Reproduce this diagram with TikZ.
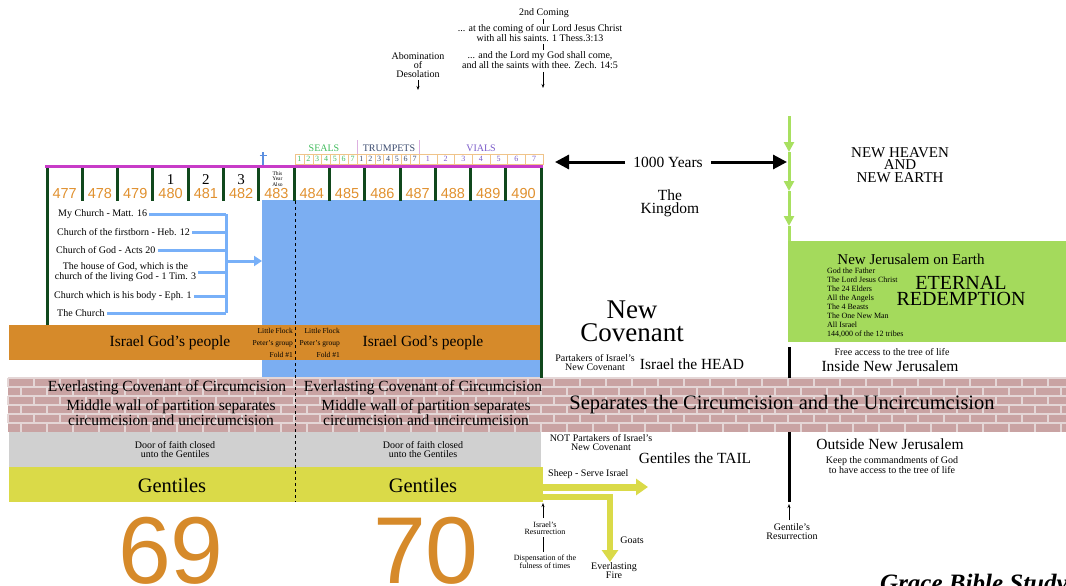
\documentclass[tikz,border=0pt]{standalone}
\usepackage{fontspec}
\setmainfont{Liberation Serif}
\newfontfamily\numfont{Liberation Sans}
\usetikzlibrary{arrows.meta,positioning}

\definecolor{yearorange}{HTML}{E0902E}
\definecolor{bandorange}{HTML}{D68A2A}
\definecolor{postgreen}{HTML}{10481C}
\definecolor{barmagenta}{HTML}{C83CC8}
\definecolor{churchblue}{HTML}{7BAEF2}
\definecolor{linkblue}{HTML}{78B0F8}
\definecolor{crossblue}{HTML}{5A8EE0}
\definecolor{brickred}{HTML}{C9A3A3}
\definecolor{mortar}{HTML}{E4D6D6}
\definecolor{doorgray}{HTML}{D0D0D0}
\definecolor{gentyellow}{HTML}{DADA48}
\definecolor{jerusgreen}{HTML}{A4DA5C}
\definecolor{heavengreen}{HTML}{A8E060}
\definecolor{sealgreen}{HTML}{40BB5C}
\definecolor{trumpslate}{HTML}{3A4A6E}
\definecolor{vialpurple}{HTML}{7A5AC8}
\definecolor{boxtan}{HTML}{F0C48A}
\definecolor{seppurple}{HTML}{DDB0E0}

\newcommand{\txtsize}[2]{\fontsize{#1}{#2}\selectfont}

\tikzset{
  yearnum/.style={font=\numfont\txtsize{14.5}{14.5}, text=yearorange, inner sep=0pt},
  post/.style={postgreen, line width=3pt},
  smallnum/.style={font=\txtsize{8}{8}, inner sep=0pt},
  listitem/.style={font=\txtsize{10}{9}, inner sep=2pt, anchor=west},
  churchlink/.style={linkblue, line width=3pt},
  bandtext/.style={font=\txtsize{15.5}{15.5}, inner sep=0pt},
  flocktext/.style={font=\txtsize{7.5}{12}, align=right, inner sep=0pt},
  walltext/.style={font=\txtsize{15.5}{12.5}, align=center, inner sep=0pt},
  doortext/.style={font=\txtsize{10}{9}, align=center, inner sep=0pt},
  genttext/.style={font=\txtsize{20.5}{20.5}, inner sep=0pt},
  note/.style={font=\txtsize{10}{9}, align=center, inner sep=0pt},
  tinynote/.style={font=\txtsize{8}{7}, align=center, inner sep=0pt},
  bignote/.style={font=\txtsize{15.5}{13}, align=center, inner sep=0pt},
  weekcount/.style={font=\txtsize{15}{15}, inner sep=0pt},
  bigarrow/.style={line width=3pt, -{Triangle[length=14pt,width=14pt]}},
  flowarrow/.style={gentyellow, line width=7pt, -{Triangle[length=12pt,width=16pt]}},
  thinup/.style={line width=0.6pt, -{Stealth[length=4pt,width=3pt]}},
  heavenarrow/.style={heavengreen, line width=3pt, -{Triangle[length=10pt,width=10pt]}},
  bignum/.style={font=\numfont\txtsize{95}{95}, text=bandorange, inner sep=0pt, anchor=base},
}

\begin{document}
\begin{tikzpicture}[x=1pt,y=-1pt]
  \useasboundingbox (0,0) rectangle (1066,586);

  % coloured fields
  \fill[churchblue] (262,200) rectangle (541,378);
  \fill[bandorange] (9,325) rectangle (541,360);
  \fill[doorgray] (9,432) rectangle (541,467);
  \fill[gentyellow] (9,467) rectangle (543,502);
  \fill[jerusgreen] (788,241) rectangle (1066,342);

  % brick wall
  \fill[brickred] (8,378) rectangle (1066,432);
  \foreach \r in {0,...,5} {
    \draw[mortar, line width=1.2pt] (8,378+9*\r) -- (1066,378+9*\r);
    \pgfmathsetmacro{\brickoff}{mod(\r,2)*13}
    \foreach \c in {0,...,40}
      \draw[mortar, line width=1.2pt] (8+\brickoff+26*\c,378+9*\r) -- ++(0,9);
  }

  % the 70th week timeline
  \foreach \i in {0,...,14}
    \draw[post] (47+35.3*\i,167) -- (47+35.3*\i,201);
  \draw[post] (47,167) -- (47,325);
  \draw[post] (541,167) -- (541,378);
  \draw[barmagenta, line width=3pt] (45,166) -- (543,166);
  \foreach \n [count=\i from 0] in {477,...,490}
    \node[yearnum] (yr\n) at (64.65+35.3*\i,194) {\n};
  \path (yr480) ++(0,-14) node[weekcount] (one) {1};
  \path (yr481) ++(0,-14) node[weekcount] (two) {2};
  \path (yr482) ++(0,-14) node[weekcount] (three) {3};
  \path (yr483) ++(1,-15) node[font=\txtsize{5.5}{5.5}, align=center, inner sep=0pt] (thisyear) {This\\Year\\Also};
  \draw[crossblue, line width=1.2pt] (263,152) -- (263,165) (259.5,155.5) -- (267,155.5);

  % seals, trumpets, vials
  \foreach \n [count=\i from 0] in {1,...,7} {
    \draw[boxtan] (295+8.86*\i,154) rectangle ++(8.86,10);
    \node[smallnum, text=sealgreen] at (299.43+8.86*\i,159) {\n};
    \draw[boxtan] (357+8.86*\i,154) rectangle ++(8.86,10);
    \node[smallnum, text=trumpslate] at (361.43+8.86*\i,159) {\n};
    \draw[boxtan] (419+17.7*\i,154) rectangle ++(17.7,10);
    \node[smallnum, text=vialpurple] at (427.85+17.7*\i,159) {\n};
  }
  \draw[seppurple] (357,140) -- (357,154) (419,140) -- (419,154);
  \node[font=\txtsize{10}{10}, text=sealgreen, inner sep=0pt] (seals) at (324,148) {SEALS};
  \node[font=\txtsize{10}{10}, text=trumpslate, inner sep=0pt] (trumpets) at (389,148) {TRUMPETS};
  \node[font=\txtsize{10}{10}, text=vialpurple, inner sep=0pt] (vials) at (481,148) {VIALS};

  % names of the church
  \node[listitem] (mychurch) at (56,214) {My Church - Matt. 16};
  \node[listitem] (firstborn) at (55,232) {Church of the firstborn - Heb. 12};
  \node[listitem] (godchurch) at (54,250) {Church of God - Acts 20};
  \node[font=\txtsize{10}{8.5}, align=center, inner sep=2pt] (house) at (125.5,272) {The house of God, which is the\\church of the living God - 1 Tim. 3};
  \node[listitem] (body) at (52,296) {Church which is his body - Eph. 1};
  \node[listitem] (church) at (55,313) {The Church};
  \coordinate (bar) at (226,261);
  \coordinate (blueedge) at (262,261);
  \foreach \item in {mychurch,firstborn,godchurch,house,body,church}
    \draw[churchlink] (\item.east) -- (\item.east -| bar);
  \draw[churchlink] (mychurch.east -| bar) -- (church.east -| bar);
  \draw[churchlink, -{Triangle[length=8pt,width=10pt]}] (bar) -- (blueedge);

  % Israel band
  \node[bandtext] (israelL) at (170,343) {Israel God's people};
  \node[bandtext] (israelR) at (423,343) {Israel God's people};
  \node[flocktext, anchor=east] (flockL) at (293,343) {Little Flock\\Peter's group\\Fold \#1};
  \node[flocktext, anchor=east] (flockR) at (340,343) {Little Flock\\Peter's group\\Fold \#1};

  % wall texts
  \node[walltext] (covL) at (167,388) {Everlasting Covenant of Circumcision};
  \node[walltext] (covR) at (423,388) {Everlasting Covenant of Circumcision};
  \node[walltext] (wallL) at (171,413) {Middle wall of partition separates\\circumcision and uncircumcision};
  \node[walltext] (wallR) at (426,413) {Middle wall of partition separates\\circumcision and uncircumcision};
  \node[font=\txtsize{20.5}{20.5}, inner sep=0pt] (separates) at (782,405) {Separates the Circumcision and the Uncircumcision};

  % Gentiles
  \node[doortext] (doorL) at (175,450) {Door of faith closed\\unto the Gentiles};
  \node[doortext] (doorR) at (423,450) {Door of faith closed\\unto the Gentiles};
  \node[genttext] (gentL) at (172,485) {Gentiles};
  \node[genttext] (gentR) at (423,485) {Gentiles};
  \draw[dashed, line width=0.7pt] (295,201) -- (295,502);

  % sheep and goats
  \coordinate (sheepstart) at (543,487);
  \coordinate (sheepend) at (648,487);
  \coordinate (goatstart) at (543,497);
  \coordinate (goatend) at (610,562);
  \draw[flowarrow] (sheepstart) -- (sheepend);
  \draw[flowarrow, line width=6pt] (goatstart) -| (goatend);
  \node[note, anchor=west] (sheep) at (548,474) {Sheep - Serve Israel};
  \node[note] (goats) at (632,540) {Goats};
  \node[note] (fire) at (614,571) {Everlasting\\Fire};
  \node[note] (notpartakers) at (601,443) {NOT Partakers of Israel's\\New Covenant};
  \node[bignote] (tail) at (695,458) {Gentiles the TAIL};

  % resurrections
  \node[tinynote] (israelres) at (545,528) {Israel's\\Resurrection};
  \node[tinynote] (dispensation) at (545,562) {Dispensation of the\\fulness of times};
  \draw[thinup] (543,518) -- (543,503);
  \draw[line width=0.6pt] (543,537) -- (543,552);
  \node[note] (gentileres) at (792,532) {Gentile's\\Resurrection};
  \draw[thinup] (789,520) -- (789,504);
  \draw[line width=3pt] (789,432) -- (789,502);
  \draw[line width=3pt] (789,347) -- (789,378);

  % the kingdom
  \node[font=\txtsize{27}{23}, align=center, inner sep=0pt] (newcov) at (632,321) {New\\Covenant};
  \node[note] (partakers) at (595,363) {Partakers of Israel's\\New Covenant};
  \node[bignote] (head) at (692,364) {Israel the HEAD};
  \node[bignote] (years) at (668,162) {1000 Years};
  \coordinate (yearsL) at (555,162);
  \coordinate (yearsR) at (787,162);
  \draw[bigarrow] (years.west) ++(-8,0) -- (yearsL);
  \draw[bigarrow] (years.east) ++(8,0) -- (yearsR);
  \node[bignote] (kingdom) at (670,203) {The\\Kingdom};

  % eternity
  \node[font=\txtsize{15}{12.5}, align=center, inner sep=0pt] (heaven) at (900,165) {NEW HEAVEN\\AND\\NEW EARTH};
  \draw[heavenarrow] (789,116) -- (789,152);
  \draw[heavenarrow] (789,152) -- (789,191);
  \draw[heavenarrow] (789,191) -- (789,226);
  \draw[heavengreen, line width=3pt] (789,226) -- (789,241);
  \node[font=\txtsize{15}{15}, inner sep=0pt] (jerusalem) at (911,259) {New Jerusalem on Earth};
  \node[font=\txtsize{8}{8.9}, align=left, anchor=north west, inner sep=0pt] (dwellers) at (827,268)
    {God the Father\\The Lord Jesus Christ\\The 24 Elders\\All the Angels\\The 4 Beasts\\The One New Man\\All Israel\\144,000 of the 12 tribes};
  \node[font=\txtsize{20}{16}, align=center, inner sep=0pt] (eternal) at (961,291) {ETERNAL\\REDEMPTION};
  \node[note] (freeaccess) at (892,352) {Free access to the tree of life};
  \node[bignote] (inside) at (890,366) {Inside New Jerusalem};
  \node[bignote] (outside) at (890,444) {Outside New Jerusalem};
  \node[note] (commandments) at (892,465) {Keep the commandments of God\\to have access to the tree of life};

  % second coming
  \node[note] (coming) at (544,13) {2nd Coming};
  \node[note] (thess) at (540,33.5) {... at the coming of our Lord Jesus Christ\\with all his saints. 1 Thess.3:13};
  \node[note] (zech) at (540,60.5) {... and the Lord my God shall come,\\and all the saints with thee. Zech. 14:5};
  \draw[line width=0.5pt] (543,19) -- (543,24);
  \draw[line width=0.5pt] (543,44) -- (543,50);
  \draw[thinup] (543,72) -- (543,88);
  \node[note] (abomination) at (418,65) {Abomination\\of\\Desolation};
  \draw[thinup] (418,80) -- (418,90);

  % weeks
  \node[bignum] (sixtynine) at (171,583) {69};
  \node[bignum] (seventy) at (426,583) {70};
  \node[font=\txtsize{25}{25}\bfseries\itshape, anchor=base west, inner sep=0pt] (grace) at (880,591) {Grace Bible Study};
\end{tikzpicture}
\end{document}
